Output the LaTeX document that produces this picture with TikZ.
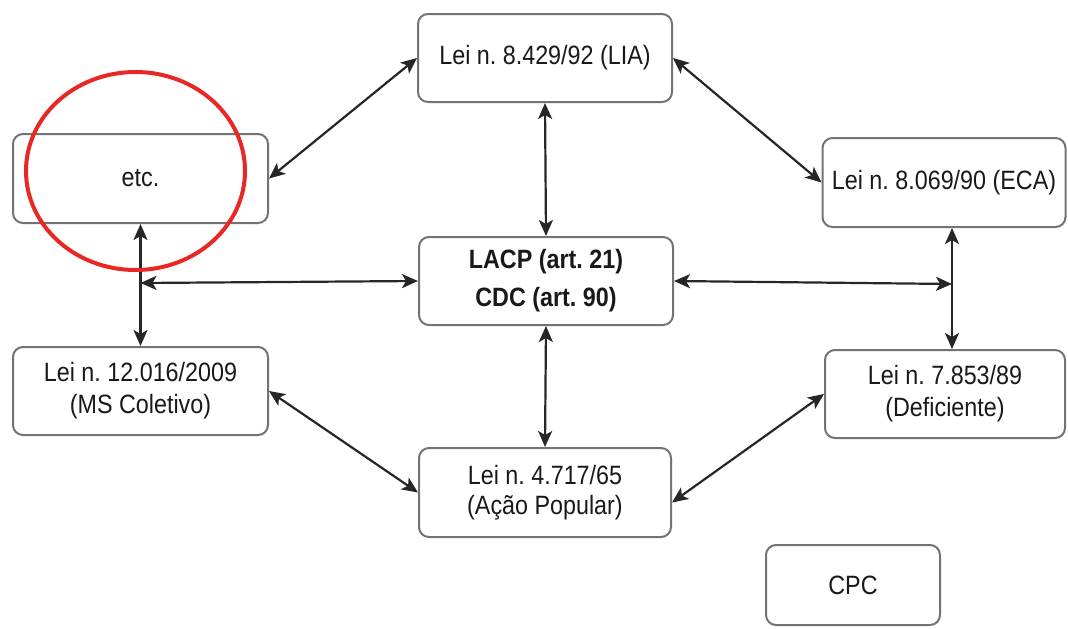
\documentclass[tikz,border=0pt]{standalone}
\usepackage{fontspec}
\setmainfont{Liberation Sans}[FakeStretch=0.88]
\usetikzlibrary{arrows.meta}
\definecolor{boxgray}{RGB}{115,115,115}
\definecolor{txt}{RGB}{25,25,25}
\definecolor{circred}{RGB}{232,40,36}
\frenchspacing
\begin{document}
\begin{tikzpicture}[x=1pt,y=-1pt,
  lawbox/.style={draw=boxgray, line width=2pt, rounded corners=10pt, fill=white,
    align=center, inner sep=0pt, text=txt, font=\fontsize{26.5}{32}\selectfont},
  link/.style={line width=2.2pt, draw=black!85, {Stealth[length=16pt,width=14pt,inset=4pt]}-{Stealth[length=16pt,width=14pt,inset=4pt]}}]
\useasboundingbox (0,0) rectangle (1068,629);
\node[lawbox, minimum width=254pt, minimum height=88pt] (lia) at (545,58) {Lei n. 8.429/92 (LIA)};
\node[lawbox, minimum width=255pt, minimum height=89pt] (etc) at (140.5,178.5) {etc.};
\node[lawbox, minimum width=243pt, minimum height=89pt] (eca) at (944,182.5) {Lei n. 8.069/90 (ECA)};
\node[lawbox, minimum width=254pt, minimum height=88pt, font=\fontsize{26.5}{38}\selectfont\bfseries] (lacp) at (546,281) {LACP (art. 21)\\CDC (art. 90)};
\node[lawbox, minimum width=255pt, minimum height=88pt] (ms) at (140.5,391) {Lei n. 12.016/2009\\(MS Coletivo)};
\node[lawbox, minimum width=240pt, minimum height=88pt] (def) at (945,394) {Lei n. 7.853/89\\(Deficiente)};
\node[lawbox, minimum width=252pt, minimum height=89pt, font=\fontsize{26.5}{30}\selectfont] (acao) at (545,492.5) {Lei n. 4.717/65\\(Ação Popular)};
\node[lawbox, minimum width=174pt, minimum height=80pt] (cpc) at (853,585) {CPC};
\coordinate (jl) at (140.5,283);
\coordinate (jr) at (952,284);
\draw[link] (etc.east) -- (lia.west);
\draw[link] (lia.east) -- (eca.west);
\draw[link] (lia.south) -- (lacp.north);
\draw[link] (etc.south) -- (ms.north);
\draw[link] (jl) -- (lacp.west);
\draw[link] (lacp.east) -- (jr);
\draw[link] (eca.south -| jr) -- (def.north -| jr);
\draw[link] (lacp.south) -- (acao.north);
\draw[link] (ms.east) -- (acao.west);
\draw[link] ([yshift=-10pt]acao.east) -- (def.west);
\draw[circred, line width=4pt] (135.5,171) ellipse [x radius=109.5, y radius=99];
\end{tikzpicture}
\end{document}
